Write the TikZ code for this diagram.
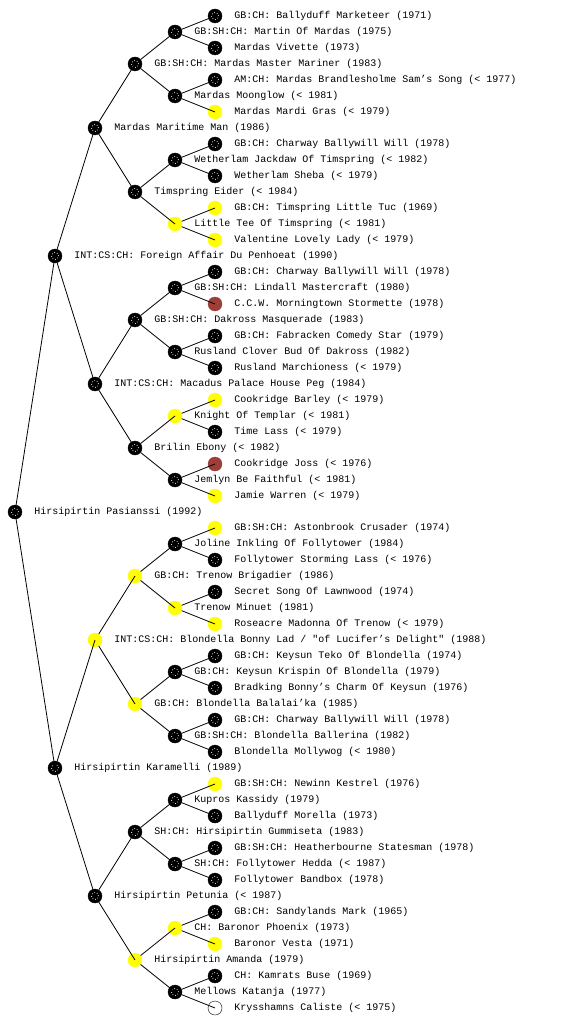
\documentclass[tikz,border=0pt]{standalone}
\usepackage{fontspec}
\setmonofont{Liberation Mono}
\usepackage{tikz}
\definecolor{pdYellow}{RGB}{255,255,0}
\definecolor{pdRed}{RGB}{158,62,56}
\tikzset{
    dog/.style={circle,minimum size=14pt,inner sep=0pt,draw=black,thin,
        fill=black,
        path picture={\draw[white,dotted,line width=0.7pt] (path picture bounding box.center) circle (3.5pt);}},
    dogY/.style={circle,minimum size=14pt,inner sep=0pt,draw=pdYellow,fill=pdYellow},
    dogR/.style={circle,minimum size=14pt,inner sep=0pt,draw=pdRed,fill=pdRed},
    dogW/.style={circle,minimum size=14pt,inner sep=0pt,draw=black,fill=white},
    lbl/.style={inner sep=0pt,xshift=12pt,font=\ttfamily\fontsize{10}{12}\selectfont},
    link/.style={draw=black,line width=0.8pt}
}

\begin{document}
\begin{tikzpicture}[x=1pt,y=-1pt]
  \useasboundingbox[fill=white] (0,0) rectangle (560,1024);

  % Root
  \node[dog,label={[lbl]right:{Hirsipirtin Pasianssi (1992)}}] (p) at (15,512) {};

  % Parents
  \node[dog,label={[lbl]right:{INT:CS:CH: Foreign Affair Du Penhoeat (1990)}}] (ps) at (55,256) {};
  \node[dog,label={[lbl]right:{Hirsipirtin Karamelli (1989)}}] (pd) at (55,768) {};

  % Grandparents
  \node[dog,label={[lbl]right:{Mardas Maritime Man (1986)}}] (pss) at (95,128) {};
  \node[dog,label={[lbl]right:{INT:CS:CH: Macadus Palace House Peg (1984)}}] (psd) at (95,384) {};
  \node[dogY,label={[lbl]right:{INT:CS:CH: Blondella Bonny Lad / "of Lucifer’s Delight" (1988)}}] (pds) at (95,640) {};
  \node[dog,label={[lbl]right:{Hirsipirtin Petunia (< 1987)}}] (pdd) at (95,896) {};

  % Great-grandparents
  \node[dog,label={[lbl]right:{GB:SH:CH: Mardas Master Mariner (1983)}}] (psss) at (135,64) {};
  \node[dog,label={[lbl]right:{Timspring Eider (< 1984)}}] (pssd) at (135,192) {};
  \node[dog,label={[lbl]right:{GB:SH:CH: Dakross Masquerade (1983)}}] (psds) at (135,320) {};
  \node[dog,label={[lbl]right:{Brilin Ebony (< 1982)}}] (psdd) at (135,448) {};
  \node[dogY,label={[lbl]right:{GB:CH: Trenow Brigadier (1986)}}] (pdss) at (135,576) {};
  \node[dogY,label={[lbl]right:{GB:CH: Blondella Balalai’ka (1985)}}] (pdsd) at (135,704) {};
  \node[dog,label={[lbl]right:{SH:CH: Hirsipirtin Gummiseta (1983)}}] (pdds) at (135,832) {};
  \node[dogY,label={[lbl]right:{Hirsipirtin Amanda (1979)}}] (pddd) at (135,960) {};

  % Fourth generation
  \node[dog,label={[lbl]right:{GB:SH:CH: Martin Of Mardas (1975)}}] (pssss) at (175,32) {};
  \node[dog,label={[lbl]right:{Mardas Moonglow (< 1981)}}] (psssd) at (175,96) {};
  \node[dog,label={[lbl]right:{Wetherlam Jackdaw Of Timspring (< 1982)}}] (pssds) at (175,160) {};
  \node[dogY,label={[lbl]right:{Little Tee Of Timspring (< 1981)}}] (pssdd) at (175,224) {};
  \node[dog,label={[lbl]right:{GB:SH:CH: Lindall Mastercraft (1980)}}] (psdss) at (175,288) {};
  \node[dog,label={[lbl]right:{Rusland Clover Bud Of Dakross (1982)}}] (psdsd) at (175,352) {};
  \node[dogY,label={[lbl]right:{Knight Of Templar (< 1981)}}] (psdds) at (175,416) {};
  \node[dog,label={[lbl]right:{Jemlyn Be Faithful (< 1981)}}] (psddd) at (175,480) {};
  \node[dog,label={[lbl]right:{Joline Inkling Of Follytower (1984)}}] (pdsss) at (175,544) {};
  \node[dogY,label={[lbl]right:{Trenow Minuet (1981)}}] (pdssd) at (175,608) {};
  \node[dog,label={[lbl]right:{GB:CH: Keysun Krispin Of Blondella (1979)}}] (pdsds) at (175,672) {};
  \node[dog,label={[lbl]right:{GB:SH:CH: Blondella Ballerina (1982)}}] (pdsdd) at (175,736) {};
  \node[dog,label={[lbl]right:{Kupros Kassidy (1979)}}] (pddss) at (175,800) {};
  \node[dog,label={[lbl]right:{SH:CH: Follytower Hedda (< 1987)}}] (pddsd) at (175,864) {};
  \node[dogY,label={[lbl]right:{CH: Baronor Phoenix (1973)}}] (pddds) at (175,928) {};
  \node[dog,label={[lbl]right:{Mellows Katanja (1977)}}] (pdddd) at (175,992) {};

  % Fifth generation
  \node[dog,label={[lbl]right:{GB:CH: Ballyduff Marketeer (1971)}}] (psssss) at (215,16) {};
  \node[dog,label={[lbl]right:{Mardas Vivette (1973)}}] (pssssd) at (215,48) {};
  \node[dog,label={[lbl]right:{AM:CH: Mardas Brandlesholme Sam’s Song (< 1977)}}] (psssds) at (215,80) {};
  \node[dogY,label={[lbl]right:{Mardas Mardi Gras (< 1979)}}] (psssdd) at (215,112) {};
  \node[dog,label={[lbl]right:{GB:CH: Charway Ballywill Will (1978)}}] (pssdss) at (215,144) {};
  \node[dog,label={[lbl]right:{Wetherlam Sheba (< 1979)}}] (pssdsd) at (215,176) {};
  \node[dogY,label={[lbl]right:{GB:CH: Timspring Little Tuc (1969)}}] (pssdds) at (215,208) {};
  \node[dogY,label={[lbl]right:{Valentine Lovely Lady (< 1979)}}] (pssddd) at (215,240) {};
  \node[dog,label={[lbl]right:{GB:CH: Charway Ballywill Will (1978)}}] (psdsss) at (215,272) {};
  \node[dogR,label={[lbl]right:{C.C.W. Morningtown Stormette (1978)}}] (psdssd) at (215,304) {};
  \node[dog,label={[lbl]right:{GB:CH: Fabracken Comedy Star (1979)}}] (psdsds) at (215,336) {};
  \node[dog,label={[lbl]right:{Rusland Marchioness (< 1979)}}] (psdsdd) at (215,368) {};
  \node[dogY,label={[lbl]right:{Cookridge Barley (< 1979)}}] (psddss) at (215,400) {};
  \node[dog,label={[lbl]right:{Time Lass (< 1979)}}] (psddsd) at (215,432) {};
  \node[dogR,label={[lbl]right:{Cookridge Joss (< 1976)}}] (psddds) at (215,464) {};
  \node[dogY,label={[lbl]right:{Jamie Warren (< 1979)}}] (psdddd) at (215,496) {};
  \node[dogY,label={[lbl]right:{GB:SH:CH: Astonbrook Crusader (1974)}}] (pdssss) at (215,528) {};
  \node[dog,label={[lbl]right:{Follytower Storming Lass (< 1976)}}] (pdsssd) at (215,560) {};
  \node[dog,label={[lbl]right:{Secret Song Of Lawnwood (1974)}}] (pdssds) at (215,592) {};
  \node[dogY,label={[lbl]right:{Roseacre Madonna Of Trenow (< 1979)}}] (pdssdd) at (215,624) {};
  \node[dog,label={[lbl]right:{GB:CH: Keysun Teko Of Blondella (1974)}}] (pdsdss) at (215,656) {};
  \node[dog,label={[lbl]right:{Bradking Bonny’s Charm Of Keysun (1976)}}] (pdsdsd) at (215,688) {};
  \node[dog,label={[lbl]right:{GB:CH: Charway Ballywill Will (1978)}}] (pdsdds) at (215,720) {};
  \node[dog,label={[lbl]right:{Blondella Mollywog (< 1980)}}] (pdsddd) at (215,752) {};
  \node[dogY,label={[lbl]right:{GB:SH:CH: Newinn Kestrel (1976)}}] (pddsss) at (215,784) {};
  \node[dog,label={[lbl]right:{Ballyduff Morella (1973)}}] (pddssd) at (215,816) {};
  \node[dog,label={[lbl]right:{GB:SH:CH: Heatherbourne Statesman (1978)}}] (pddsds) at (215,848) {};
  \node[dog,label={[lbl]right:{Follytower Bandbox (1978)}}] (pddsdd) at (215,880) {};
  \node[dog,label={[lbl]right:{GB:CH: Sandylands Mark (1965)}}] (pdddss) at (215,912) {};
  \node[dogY,label={[lbl]right:{Baronor Vesta (1971)}}] (pdddsd) at (215,944) {};
  \node[dog,label={[lbl]right:{CH: Kamrats Buse (1969)}}] (pdddds) at (215,976) {};
  \node[dogW,label={[lbl]right:{Krysshamns Caliste (< 1975)}}] (pddddd) at (215,1008) {};

  % Sire and dam links
  \foreach \a in {p,ps,pd,pss,psd,pds,pdd,psss,pssd,psds,psdd,pdss,pdsd,pdds,pddd,
      pssss,psssd,pssds,pssdd,psdss,psdsd,psdds,psddd,pdsss,pdssd,pdsds,pdsdd,pddss,pddsd,pddds,pdddd} {
    \draw[link] (\a) -- (\a s.center);
    \draw[link] (\a) -- (\a d.center);
  }
\end{tikzpicture}
\end{document}
